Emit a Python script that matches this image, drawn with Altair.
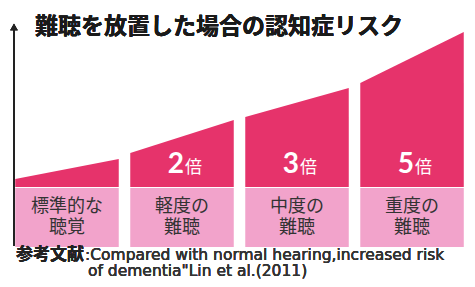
import altair as alt
import pandas as pd

# ---- data ----
line1 = ["標準的な", "軽度の", "中度の", "重度の"]
line2 = ["聴覚", "難聴", "難聴", "難聴"]
multipliers = ["", "2", "3", "5"]
unit_label = ["", "倍", "倍", "倍"]
top_left = [8, 34, 70, 104]     # height of bar top at left edge (px-units above baseline)
top_right = [28, 67, 99, 155]   # height of bar top at right edge
title_text = "難聴を放置した場合の認知症リスク"
ref_head = "参考文献"
ref_line1 = ":Compared with normal hearing,increased risk"
ref_line2 = "of dementia\"Lin et al.(2011)"

RED = "#E6336B"
PINK = "#F2A3CB"
HALF = 0.45

rows = []
for i in range(len(line1)):
    rows.append({"bar": i, "x": i - HALF, "top": top_left[i], "base": 0})
    rows.append({"bar": i, "x": i + HALF, "top": top_right[i], "base": 0})
area_df = pd.DataFrame(rows)

cat_df = pd.DataFrame({
    "i": list(range(len(line1))),
    "x0": [i - HALF for i in range(len(line1))],
    "x1": [i + HALF for i in range(len(line1))],
    "label": [a + "\n" + b for a, b in zip(line1, line2)],
    "mult": multipliers,
    "unit": unit_label,
    "box_top": [-1] * len(line1),
    "box_bot": [-60] * len(line1),
    "ly": [-20] * len(line1),
    "numy": [14] * len(line1),
})

xs = alt.Scale(domain=[-0.513, 3.478], nice=False, zero=False)
ys = alt.Scale(domain=[-92, 179], nice=False, zero=False)

bars = alt.Chart(area_df).mark_area(color=RED, orient="vertical").encode(
    x=alt.X("x:Q", scale=xs, axis=None),
    y=alt.Y("top:Q", scale=ys, axis=None, stack=None),
    y2="base:Q",
    detail="bar:N",
)

boxes = alt.Chart(cat_df).mark_rect(color=PINK).encode(
    x=alt.X("x0:Q", scale=xs, axis=None),
    x2="x1:Q",
    y=alt.Y("box_top:Q", scale=ys, axis=None),
    y2="box_bot:Q",
)

labels = alt.Chart(cat_df).mark_text(
    font="Noto Sans CJK JP", fontSize=18, color="#333333", baseline="middle", align="center",
    lineBreak="\n", lineHeight=21
).encode(x=alt.X("i:Q", scale=xs, axis=None), y=alt.Y("ly:Q", scale=ys, axis=None), text="label:N")

digits = alt.Chart(cat_df).mark_text(
    font="Lato", fontSize=28, fontWeight="bold", color="white", baseline="alphabetic", align="right", dx=2
).encode(x=alt.X("i:Q", scale=xs, axis=None), y=alt.Y("numy:Q", scale=ys, axis=None), text="mult:N")

units = alt.Chart(cat_df).mark_text(
    font="Noto Sans CJK JP", fontSize=17, color="white", baseline="alphabetic", align="left", dx=3
).encode(x=alt.X("i:Q", scale=xs, axis=None), y=alt.Y("numy:Q", scale=ys, axis=None), text="unit:N")

axis_line = alt.Chart(cat_df).mark_rule(color="#222222", strokeWidth=2).encode(
    x=alt.datum(-0.461, scale=xs),
    y=alt.datum(-59, scale=ys),
    y2=alt.datum(157),
)

arrow = alt.Chart(cat_df).mark_point(
    shape="triangle-up", filled=True, color="#222222", size=55, opacity=1
).encode(
    x=alt.datum(-0.461, scale=xs),
    y=alt.datum(160, scale=ys),
)

title = alt.Chart(cat_df).mark_text(
    font="Noto Sans CJK JP", fontSize=23, fontWeight="bold", color="#1a1a1a", align="left", baseline="middle"
).encode(x=alt.value(27), y=alt.value(19), text=alt.datum(title_text))

ref_a = alt.Chart(cat_df).mark_text(
    font="Noto Sans CJK JP", fontSize=17, fontWeight="bold", color="#222222", align="left", baseline="middle"
).encode(x=alt.value(8), y=alt.value(247), text=alt.datum(ref_head))

ref_b = alt.Chart(cat_df).mark_text(
    font="DejaVu Sans", fontSize=15.5, fontWeight="normal", color="#333333", align="left", baseline="middle"
).encode(x=alt.value(77), y=alt.value(247), text=alt.datum(ref_line1))

ref_c = alt.Chart(cat_df).mark_text(
    font="DejaVu Sans", fontSize=15.5, fontWeight="normal", color="#333333", align="left", baseline="middle"
).encode(x=alt.value(80), y=alt.value(262.5), text=alt.datum(ref_line2))

chart = alt.layer(
    bars, boxes, labels, digits, units, axis_line, arrow, title, ref_a, ref_b, ref_c
).properties(
    width=459, height=271, padding=0, autosize="none", background="white"
).configure_view(stroke=None)

chart.save("out.html", embed_options={"renderer": "svg", "actions": False})
